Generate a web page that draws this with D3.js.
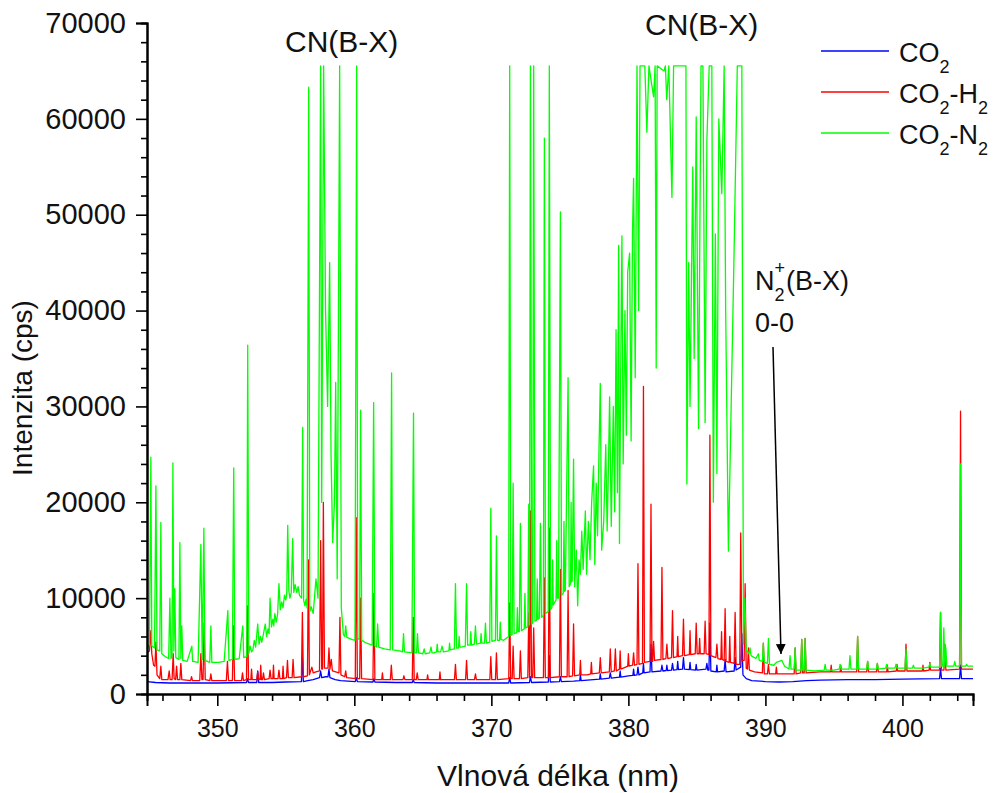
<!DOCTYPE html>
<html>
<head>
<meta charset="utf-8">
<script src="https://cdn.jsdelivr.net/npm/d3@7"></script>
<style>
  body { margin: 0; background: #fff; }
  svg { font-family: "Liberation Sans", Arial, sans-serif; }
</style>
</head>
<body>
<script>
// wavelength (nm), intensity (cps)
const co2 = [
  [344.87,1300],[345.5,1200],[346.5,1150],[348,1150],[350,1150],[352.13,1200],[352.2,1600],[352.28,1200],
  [352.88,1200],[352.95,2400],[353.02,1200],[354,1200],[355,1250],[356.14,1300],[356.21,4000],[356.28,1300],
  [356.6,1400],[357.0,1500],[357.46,1700],[357.54,2400],[357.62,1700],[357.9,1800],[358.08,1800],[358.15,2600],
  [358.22,1700],[358.6,1500],[359.0,1400],[360.07,1300],[360.14,1700],[360.22,1300],[361.36,1250],[361.43,1600],
  [361.5,1250],[363,1200],[364.23,1200],[364.3,1500],[364.37,1200],[366,1150],[368,1150],[370,1150],
  [371.27,1150],[371.34,1700],[371.41,1150],[372.78,1200],[372.85,1800],[372.93,1200],[374.16,1250],[374.23,4000],
  [374.3,1250],[374.97,1300],[375.04,1800],[375.11,1300],[376,1350],[376.45,1400],[376.5,2000],[376.55,1400],
  [377,1450],[377.9,1550],[377.95,2100],[378.0,1550],[378.61,1650],[378.68,2200],[378.75,1650],[379.35,1750],
  [379.4,2400],[379.45,1750],[380,1900],[380.33,1950],[380.38,2600],[380.43,1950],[380.63,2000],[380.7,2800],
  [380.77,2000],[381.05,2200],[381.1,3200],[381.15,2200],[381.58,2300],[381.65,5200],[381.72,2300],[382.38,2400],
  [382.45,3000],[382.52,2400],[382.76,2450],[382.81,3000],[382.86,2450],[383.15,2500],[383.22,3200],[383.29,2500],
  [383.55,2550],[383.6,3400],[383.65,2550],[383.95,2600],[384.02,3800],[384.09,2600],[384.45,2550],[384.5,3300],
  [384.55,2550],[384.9,2500],[384.95,3100],[385.0,2500],[385.66,2600],[385.73,3200],[385.8,2500],[385.88,2500],
  [385.95,7400],[386.02,2400],[386.41,2300],[386.46,3000],[386.51,2300],[386.99,2400],[387.06,3600],[387.13,2300],
  [387.72,2400],[387.79,3800],[387.86,2500],[388.2,2800],[388.28,6300],[388.36,2000],[388.6,1600],[389,1400],
  [390,1300],[391,1250],[392,1300],[393,1400],[394,1450],[396,1500],[398,1500],[400,1550],
  [402.71,1600],[402.78,2700],[402.85,1600],[404.17,1600],[404.24,3000],[404.31,1600],[405.15,1600]
]

const co2h2 = [
  [344.87,4300],[345.05,4500],[345.15,6600],[345.22,4200],[345.35,3000],[345.45,2900],[345.52,5400],[345.6,2000],
  [345.8,1600],[345.88,2900],[345.95,1500],[346.4,1500],[346.49,2400],[346.56,1500],[346.7,1500],[346.78,4200],
  [346.85,1600],[346.96,1500],[347.03,2900],[347.1,1500],[347.27,1500],[347.34,3200],[347.41,1500],[348.05,1400],
  [348.12,1800],[348.19,1400],[348.72,1400],[348.8,4200],[348.88,1500],[348.96,1500],[349.04,7400],[349.12,1500],
  [349.46,1400],[349.53,2100],[349.6,1400],[350.66,1400],[350.74,3400],[350.82,1400],[351.1,1400],[351.18,7100],
  [351.26,1400],[351.77,1400],[351.84,2200],[351.91,1400],[352.13,1500],[352.2,9200],[352.28,1500],[352.45,1500],
  [352.5,2600],[352.55,1500],[352.88,1500],[352.95,2300],[353.02,1500],[353.12,1500],[353.17,3000],[353.22,1500],
  [353.3,1500],[353.37,2200],[353.44,1500],[353.78,1600],[353.85,2500],[353.92,1600],[354.05,1600],[354.1,3000],
  [354.15,1600],[354.43,1600],[354.5,2500],[354.57,1600],[354.75,1600],[354.8,2900],[354.85,1600],[355.05,1700],
  [355.12,3500],[355.19,1700],[355.46,1700],[355.53,3600],[355.6,1700],[356.14,1800],[356.21,8500],[356.28,1800],
  [356.58,1900],[356.65,14000],[356.72,2000],[356.9,2800],[357.0,2200],[357.2,2300],[357.46,2400],[357.54,16000],
  [357.62,2600],[357.68,2600],[357.74,20000],[357.82,2700],[358.08,2700],[358.15,4800],[358.22,2600],[358.32,3600],
  [358.4,2400],[358.88,2200],[358.95,8000],[359.02,2000],[359.3,1800],[359.37,2400],[359.44,1700],[360.07,1600],
  [360.14,18400],[360.22,1600],[360.39,1600],[360.46,10000],[360.53,1600],[361.36,1500],[361.43,10500],[361.5,1500],
  [362.0,1500],[362.05,2200],[362.1,1500],[362.63,1500],[362.7,3000],[362.77,1500],[363.55,1500],[363.62,1900],
  [363.69,1500],[364.23,1500],[364.3,8000],[364.37,1500],[364.52,1500],[364.59,2200],[364.66,1500],[365.3,1500],
  [365.35,2000],[365.4,1500],[366.2,1500],[366.25,2300],[366.3,1500],[367.31,1500],[367.38,3100],[367.45,1500],
  [368.12,1500],[368.19,3500],[368.26,1500],[368.77,1500],[368.84,2100],[368.91,1500],[369.89,1500],[369.96,3900],
  [370.03,1500],[370.3,1500],[370.37,4300],[370.44,1500],[371.27,1600],[371.34,9500],[371.41,1600],[371.52,1600],
  [371.59,5000],[371.66,1600],[372.05,1600],[372.12,4500],[372.19,1600],[372.66,1700],[372.73,8500],[372.79,1700],
  [372.85,19100],[372.93,1700],[373.02,1700],[373.09,6900],[373.16,1700],[373.8,1700],[373.87,12100],[373.94,1700],
  [374.16,1700],[374.23,17300],[374.3,1700],[374.97,1800],[375.04,13000],[375.11,1800],[375.53,1800],[375.6,10800],
  [375.67,1800],[375.93,1900],[376.0,7300],[376.07,1900],[376.45,2000],[376.5,3500],[376.55,2000],[377.0,2000],
  [377.25,2100],[377.3,3300],[377.35,2100],[377.88,2200],[377.95,3800],[378.02,2200],[378.61,2300],[378.68,4700],
  [378.75,2300],[378.98,2400],[379.05,4700],[379.12,2400],[379.35,2600],[379.4,4500],[379.45,2600],[379.8,2800],
  [379.95,2900],[380.0,4200],[380.05,2900],[380.31,3000],[380.38,4300],[380.45,3000],[380.63,3100],[380.7,13600],
  [380.77,3100],[381.03,3200],[381.1,32100],[381.17,3300],[381.58,3400],[381.65,19800],[381.72,3400],[381.77,3400],
  [381.84,5500],[381.91,3500],[382.38,3600],[382.45,13200],[382.52,3600],[382.74,3700],[382.81,5200],[382.88,3700],
  [383.15,3800],[383.22,8700],[383.29,3800],[383.55,3900],[383.6,6000],[383.65,3900],[383.95,4000],[384.02,7800],
  [384.09,4000],[384.45,4100],[384.5,6600],[384.55,4100],[384.88,4200],[384.95,7400],[385.02,4200],[385.15,4200],
  [385.2,5800],[385.25,4200],[385.53,4200],[385.6,7600],[385.67,4200],[385.88,4100],[385.95,27000],[386.02,4000],
  [386.39,3800],[386.46,5200],[386.53,3700],[386.75,3600],[386.8,6500],[386.85,3600],[386.99,3500],[387.06,8900],
  [387.13,3400],[387.35,3300],[387.4,6000],[387.45,3300],[387.72,3200],[387.79,8500],[387.86,3100],[388.13,3100],
  [388.2,16800],[388.28,3500],[388.45,3500],[388.52,11500],[388.6,2700],[388.69,2600],[388.76,4800],[388.83,2500],
  [389.2,2300],[389.78,2200],[389.85,5300],[389.92,2100],[390.15,2100],[390.22,3100],[390.29,2100],[390.75,2100],
  [390.8,2800],[390.85,2100],[391.5,2100],[392.1,2100],[392.17,4800],[392.24,2100],[392.58,2200],[392.65,5700],
  [392.72,2200],[392.83,2200],[392.9,5800],[392.97,2200],[394.0,2300],[394.75,2300],[394.8,3000],[394.85,2300],
  [395.45,2300],[395.5,3000],[395.55,2300],[396.66,2300],[396.73,6000],[396.8,2300],[397.39,2300],[397.46,3400],
  [397.53,2300],[398.1,2300],[398.17,3200],[398.24,2300],[398.85,2300],[398.9,3000],[398.95,2300],[399.55,2400],
  [399.6,3100],[399.65,2400],[400.19,2400],[400.26,5200],[400.33,2400],[401.45,2400],[401.5,3000],[401.55,2400],
  [401.95,2500],[402.0,3300],[402.05,2500],[402.71,2500],[402.78,8500],[402.85,2500],[403.03,2500],[403.1,5200],
  [403.17,2500],[404.17,2600],[404.24,29500],[404.31,2600],[405.15,2600]
]

const co2n2 = [
  [344.87,4700],[345.05,5200],[345.15,24700],[345.22,5000],[345.42,4800],[345.52,21700],[345.6,4600],[345.8,4500],
  [345.88,17900],[345.95,4200],[346.2,3900],[346.45,3700],[346.54,10000],[346.62,3700],[346.7,4000],[346.76,24100],
  [346.83,4500],[346.9,11000],[346.97,3800],[347.2,3600],[347.27,15800],[347.34,3700],[347.41,7100],[347.48,3500],
  [347.8,3400],[348.14,5000],[348.2,3400],[348.6,3300],[348.8,15600],[348.9,3600],[349.02,17300],[349.1,3500],
  [349.45,3300],[349.53,7100],[349.6,3300],[350.1,3300],[350.5,3400],[350.77,8700],[350.85,3500],[351.1,3600],
  [351.2,23600],[351.28,3600],[351.6,3700],[351.86,7100],[351.93,3800],[352.15,3900],[352.22,36400],[352.3,4200],
  [352.4,5000],[352.5,4400],[352.6,4600],[352.7,5600],[352.8,4900],[352.95,7300],[353.05,5200],[353.15,6000],
  [353.25,5400],[353.4,6500],[353.5,7300],[353.6,6000],[353.7,6800],[353.78,6300],[353.85,10000],[353.95,7000],
  [354.05,7800],[354.12,7100],[354.2,8400],[354.3,7500],[354.4,8300],[354.5,11500],[354.6,8800],[354.7,9600],
  [354.8,9000],[354.9,10300],[355.0,9800],[355.07,10600],[355.14,17600],[355.22,10800],[355.3,10000],[355.4,10600],
  [355.5,16200],[355.58,10600],[355.68,11400],[355.8,10600],[355.9,11200],[356.0,10300],[356.15,10000],[356.23,27800],
  [356.3,9800],[356.4,9200],[356.48,9900],[356.55,9000],[356.67,63300],[356.75,8600],[356.85,9100],[357.0,8400],
  [357.2,12000],[357.35,10000],[357.54,65535],[357.62,20000],[357.76,65535],[357.9,40000],[358.05,30000],[358.2,45000],
  [358.3,25000],[358.42,15800],[358.55,20000],[358.64,32500],[358.75,12000],[358.93,65535],[359.05,9000],[359.2,6200],
  [359.3,6000],[359.37,7100],[359.45,5900],[359.8,5700],[360.05,5600],[360.17,65535],[360.25,5800],[360.38,5700],
  [360.46,29600],[360.54,5600],[360.9,5300],[361.3,5100],[361.41,30400],[361.5,5000],[361.62,4900],[361.7,7300],
  [361.78,4900],[362.2,4700],[362.62,4600],[362.72,33500],[362.8,4600],[363.3,4500],[363.52,4400],[363.59,6300],
  [363.66,4400],[364.2,4300],[364.32,29300],[364.4,4300],[364.54,4300],[364.61,6300],[364.68,4300],[365.0,4200],
  [365.1,4700],[365.17,4200],[365.5,4300],[365.6,4900],[365.67,4300],[365.8,4300],[366.0,4400],[366.05,5200],
  [366.1,4400],[366.3,4400],[366.4,5000],[366.5,4400],[366.9,4500],[366.95,5300],[367.0,4600],[367.3,4700],
  [367.38,11500],[367.46,4800],[367.6,4800],[367.65,6000],[367.7,4900],[367.8,4900],[368.1,5000],[368.19,11500],
  [368.27,5100],[368.45,5100],[368.5,6500],[368.55,5100],[368.76,5200],[368.84,7100],[368.92,5200],[369.2,5300],
  [369.25,6300],[369.3,5300],[369.5,5300],[369.57,7400],[369.64,5300],[369.88,5400],[369.96,19400],[370.04,5500],
  [370.3,5600],[370.37,16500],[370.45,5600],[370.6,5600],[370.65,7500],[370.7,5700],[370.9,5600],[371.26,6000],
  [371.34,65535],[371.42,6100],[371.52,6200],[371.59,22000],[371.66,6300],[371.85,6400],[371.9,9000],[371.95,6500],
  [372.04,6500],[372.12,17800],[372.2,6600],[372.4,6800],[372.45,10500],[372.5,6900],[372.66,7000],[372.73,19800],
  [372.78,7200],[372.85,65535],[372.95,7300],[373.02,7400],[373.09,65535],[373.18,7600],[373.3,7700],[373.35,12000],
  [373.4,7800],[373.5,7900],[373.58,17800],[373.66,8000],[373.8,8200],[373.87,58000],[373.95,8400],[374.15,8600],
  [374.23,65535],[374.32,8800],[374.42,9000],[374.47,14000],[374.52,9300],[374.6,9500],[374.72,9800],[374.77,16000],
  [374.82,10000],[374.9,10000],[375.04,50300],[375.12,10300],[375.25,10500],[375.3,18000],[375.35,10700],[375.4,10800],
  [375.6,33000],[375.68,11200],[375.78,11500],[375.82,20000],[375.86,11700],[375.9,11800],[376.0,24500],[376.08,11200],
  [376.2,15000],[376.3,9200],[376.4,14000],[376.5,12500],[376.6,17000],[376.7,13000],[376.86,19100],[376.95,12500],
  [377.08,18000],[377.2,14000],[377.32,20000],[377.46,23800],[377.55,13500],[377.65,22000],[377.75,16500],[377.85,25000],
  [377.95,32400],[378.05,15000],[378.2,18000],[378.35,26000],[378.45,17000],[378.55,24000],[378.63,31000],[378.75,17500],
  [378.9,30000],[379.0,19000],[379.1,38000],[379.2,21000],[379.29,46800],[379.35,15700],[379.45,35000],[379.53,47800],
  [379.62,24000],[379.75,40000],[379.85,27000],[379.95,44000],[380.09,46000],[380.2,26400],[380.3,48000],[380.38,53800],
  [380.5,33000],[380.63,65535],[380.75,40000],[380.85,65535],[381.2,65535],[381.35,58600],[381.5,65535],[381.84,62300],
  [381.95,65535],[382.03,34000],[382.1,65535],[382.6,65000],[382.7,65535],[382.8,62000],[382.95,65535],[383.18,51800],
  [383.3,65535],[384.2,65535],[384.27,21900],[384.4,45000],[384.5,30000],[384.7,55000],[384.8,35000],[384.95,60200],
  [385.12,27700],[385.3,65535],[385.44,65535],[385.6,28300],[385.73,57800],[385.9,65535],[386.09,65535],[386.2,20000],
  [386.35,48000],[386.46,23000],[386.6,60000],[386.82,52200],[386.99,65535],[387.1,40000],[387.3,14900],[387.5,30000],
  [387.7,45000],[387.95,65535],[388.28,65535],[388.4,5200],[388.5,10000],[388.6,4600],[388.8,4200],[388.88,4800],
  [388.95,4000],[389.3,3700],[389.49,4200],[389.55,3500],[389.78,3400],[389.85,5300],[389.92,3300],[390.15,3200],
  [390.22,5800],[390.3,3100],[390.6,3000],[390.8,3300],[391.0,3400],[391.2,3500],[391.4,2900],[391.72,2600],
  [391.8,4000],[391.87,2600],[392.1,2600],[392.17,4800],[392.24,2500],[392.58,2500],[392.65,5700],[392.72,2500],
  [392.83,2500],[392.9,5800],[392.97,2500],[393.6,2400],[394.29,2500],[394.36,3100],[394.43,2500],[395.0,2500],
  [395.38,2600],[395.45,3100],[395.52,2600],[396.1,2600],[396.17,4000],[396.24,2600],[396.66,2600],[396.73,6000],
  [396.8,2600],[397.39,2600],[397.46,3400],[397.53,2600],[398.1,2600],[398.17,3200],[398.24,2600],[398.78,2700],
  [398.85,3100],[398.92,2700],[399.46,2700],[399.53,3100],[399.6,2700],[400.19,2700],[400.26,4700],[400.33,2700],
  [400.73,2700],[400.8,3000],[400.87,2700],[401.5,2700],[401.93,2800],[402.0,3200],[402.07,2800],[402.71,2800],
  [402.78,8500],[402.86,2900],[402.95,2900],[403.02,6900],[403.09,2900],[403.17,4800],[403.24,2900],[403.75,2900],
  [403.82,3400],[403.89,2900],[404.17,2900],[404.24,24000],[404.31,2900],[404.61,2900],[404.68,3100],[404.75,2900],
  [405.15,2900]
]

const xMajor = [350, 360, 370, 380, 390, 400]
const xMinor = [346, 348, 352, 354, 356, 358, 362, 364, 366, 368, 372, 374, 376, 378, 382, 384, 386, 388, 392, 394, 396, 398, 402, 404]
const yMajor = [0, 10000, 20000, 30000, 40000, 50000, 60000, 70000]
const yMinor = [2000, 4000, 6000, 8000, 12000, 14000, 16000, 18000, 22000, 24000, 26000, 28000, 32000, 34000, 36000, 38000,
  42000, 44000, 46000, 48000, 52000, 54000, 56000, 58000, 62000, 64000, 66000, 68000]

const series = [
  {name: 'CO', sub: '2', rest: '', sub2: '', data: co2, color: '#0000ff'},
  {name: 'CO', sub: '2', rest: '-H', sub2: '2', data: co2h2, color: '#ff0000'},
  {name: 'CO', sub: '2', rest: '-N', sub2: '2', data: co2n2, color: '#00ff00'}
]

const width = 1003, height = 793

const svg = d3.select('body').append('svg')
  .attr('width', width).attr('height', height)

const x = d3.scaleLinear().domain([344.87, 405.15]).range([147, 973])
const y = d3.scaleLinear().domain([0, 70000]).range([694, 23])

const line = d3.line().x(d => x(d[0])).y(d => y(d[1]))

svg.append('g').selectAll('path')
  .data(series)
  .enter().append('path')
  .attr('d', d => line(d.data))
  .attr('fill', 'none')
  .attr('stroke', d => d.color)
  .attr('stroke-width', 1.3)
  .attr('stroke-linejoin', 'round')

// axes
const xAxis = d3.axisBottom(x).tickValues(xMajor).tickSize(12).tickPadding(13).tickFormat(d3.format('d'))
const xAxisMinor = d3.axisBottom(x).tickValues(xMinor).tickSize(7).tickFormat('')
const yAxis = d3.axisLeft(y).tickValues(yMajor).tickSize(11).tickPadding(10).tickFormat(d3.format('d'))
const yAxisMinor = d3.axisLeft(y).tickValues(yMinor).tickSize(6).tickFormat('')

const gx = svg.append('g').attr('transform', `translate(0,${y(0)})`).call(xAxis)
svg.append('g').attr('transform', `translate(0,${y(0)})`).call(xAxisMinor)
const gy = svg.append('g').attr('transform', `translate(${x(344.87)},0)`).call(yAxis)
svg.append('g').attr('transform', `translate(${x(344.87)},0)`).call(yAxisMinor)

svg.selectAll('.domain').attr('stroke', '#000').attr('stroke-width', 2)
svg.selectAll('.tick line').attr('stroke', '#000').attr('stroke-width', 1.6)
gx.selectAll('text').attr('font-size', 25).attr('fill', '#111').style('font-family', 'Liberation Sans, Arial, sans-serif')
gy.selectAll('text').attr('font-size', 29).attr('fill', '#111').style('font-family', 'Liberation Sans, Arial, sans-serif')

// axis titles
svg.append('text')
  .attr('x', 558).attr('y', 786)
  .attr('text-anchor', 'middle')
  .attr('font-size', 30)
  .attr('fill', '#111')
  .text('Vlnová délka (nm)')

svg.append('text')
  .attr('transform', 'translate(32,388) rotate(-90)')
  .attr('text-anchor', 'middle')
  .attr('font-size', 28)
  .attr('fill', '#111')
  .text('Intenzita (cps)')

// band labels
svg.append('text').attr('x', 285).attr('y', 52).attr('font-size', 30).attr('fill', '#111').text('CN(B-X)')
svg.append('text').attr('x', 645).attr('y', 35).attr('font-size', 30).attr('fill', '#111').text('CN(B-X)')

const n2 = svg.append('text').attr('x', 755).attr('y', 290).attr('font-size', 27).attr('fill', '#111')
n2.append('tspan').text('N')
n2.append('tspan').attr('font-size', 18).attr('dy', 11).text('2')
n2.append('tspan').attr('font-size', 18).attr('dy', -27).attr('dx', -10).text('+')
n2.append('tspan').attr('dy', 16).attr('dx', 1).text('(B-X)')
svg.append('text').attr('x', 755).attr('y', 332).attr('font-size', 27).attr('fill', '#111').text('0-0')

// arrow
svg.append('defs').append('marker')
  .attr('id', 'head').attr('viewBox', '0 0 10 10')
  .attr('refX', 10).attr('refY', 5)
  .attr('markerWidth', 10).attr('markerHeight', 10)
  .attr('markerUnits', 'userSpaceOnUse')
  .attr('orient', 'auto')
  .append('path').attr('d', 'M0,0L10,5L0,10Z').attr('fill', '#000')

svg.append('line')
  .attr('x1', 773).attr('y1', 347).attr('x2', 781).attr('y2', 654)
  .attr('stroke', '#000').attr('stroke-width', 1.5)
  .attr('marker-end', 'url(#head)')

// legend
const legend = svg.append('g').selectAll('g')
  .data(series)
  .enter().append('g')
  .attr('transform', (d, i) => `translate(821,${51 + i * 41})`)

legend.append('line')
  .attr('x1', 0).attr('x2', 68)
  .attr('stroke', d => d.color).attr('stroke-width', 1.3)

const lt = legend.append('text')
  .attr('x', 78).attr('y', 11)
  .attr('font-size', 27).attr('fill', '#111')
lt.append('tspan').text(d => d.name)
lt.append('tspan').attr('font-size', 18).attr('dy', 11).text(d => d.sub)
lt.append('tspan').attr('dy', -11).text(d => d.rest)
lt.append('tspan').attr('font-size', 18).attr('dy', 11).text(d => d.sub2)
</script>
</body>
</html>
